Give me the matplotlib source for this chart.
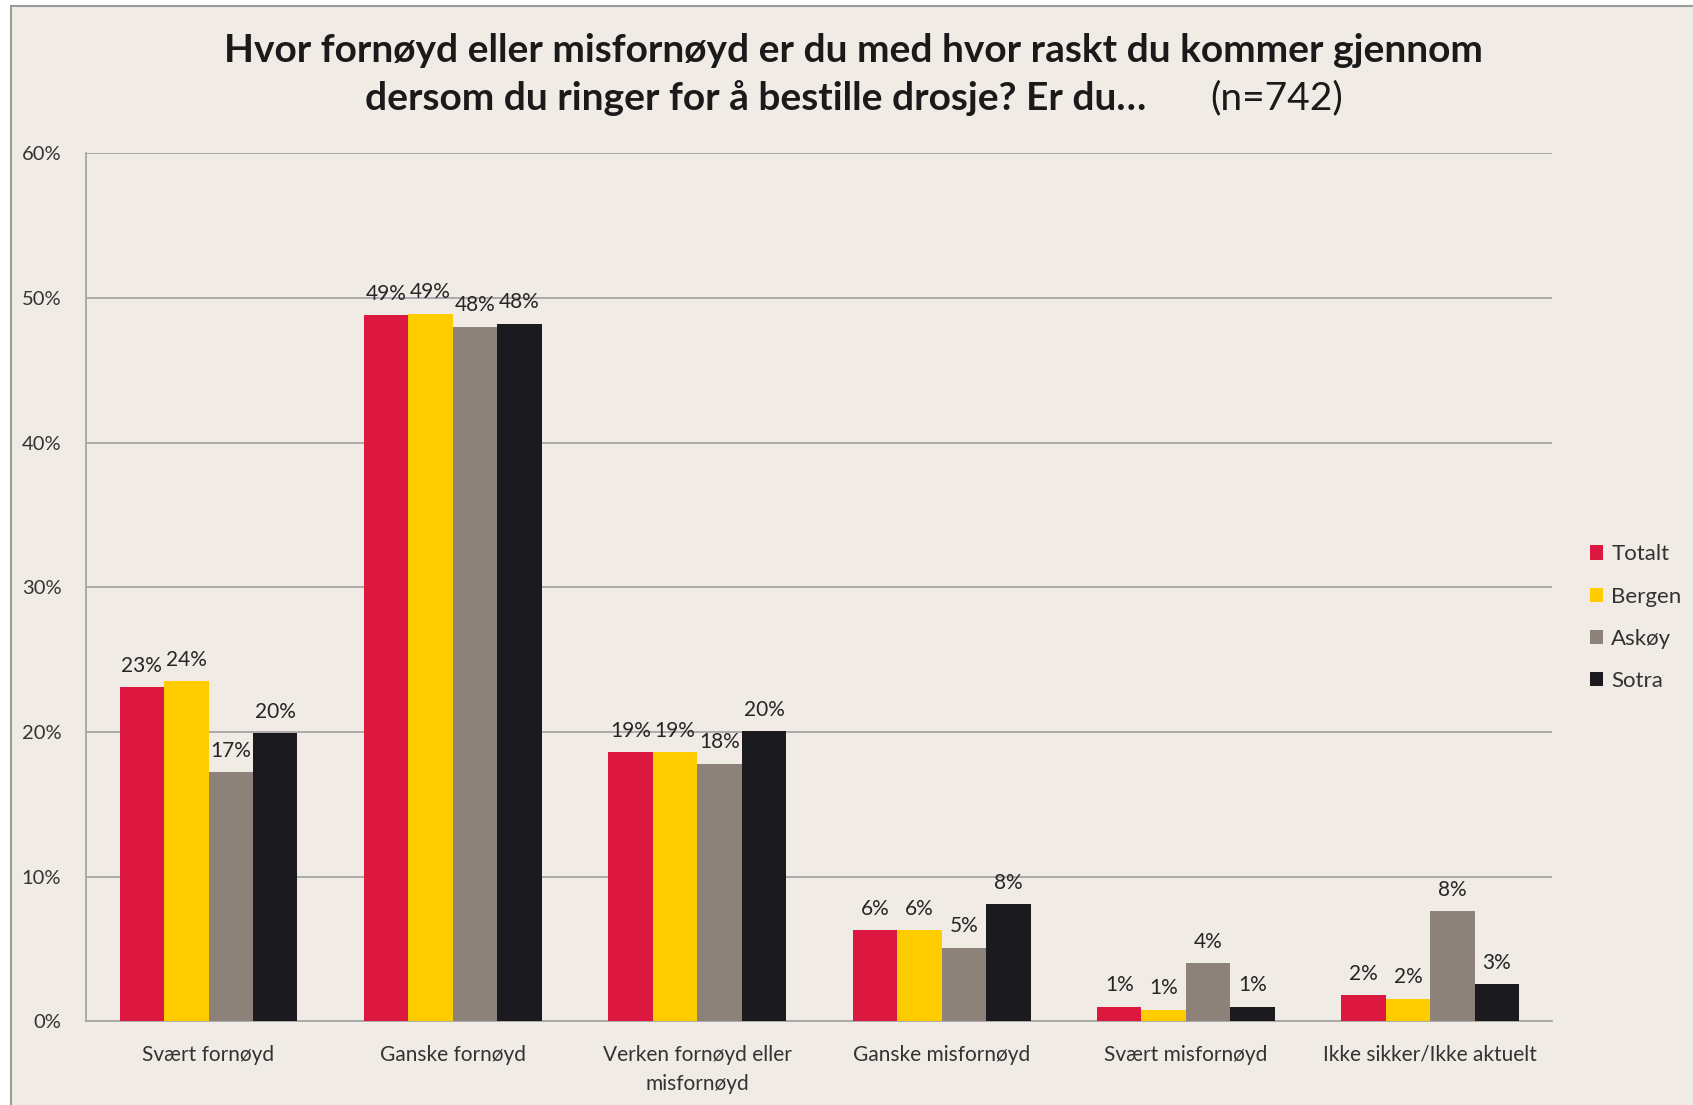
import matplotlib.pyplot as plt
import numpy as np
from matplotlib.patches import Rectangle

# categories and series (percent)
categories = ['Svært fornøyd', 'Ganske fornøyd', 'Verken fornøyd eller\nmisfornøyd',
              'Ganske misfornøyd', 'Svært misfornøyd', 'Ikke sikker/Ikke aktuelt']
series = ['Totalt', 'Bergen', 'Askøy', 'Sotra']
totalt = [23.1, 48.8, 18.6, 6.3, 1.0, 1.8]
bergen = [23.5, 48.9, 18.6, 6.3, 0.8, 1.55]
askoy = [17.2, 48.0, 17.8, 5.1, 4.0, 7.6]
sotra = [19.9, 48.2, 20.05, 8.1, 1.0, 2.55]
colors = ['#DC1740', '#FFCC00', '#8C8279', '#1B1A1E']

plt.rcParams['font.family'] = ['Lato', 'DejaVu Sans']

fig = plt.figure(figsize=(16.93, 11.05), dpi=100, facecolor='white')
# chart area background with border
fig.patches.append(Rectangle((0.0065, -0.01), 1.0, 1.005, transform=fig.transFigure,
                             facecolor='#F0EBE4', edgecolor='#9A9A9A', linewidth=1.5, zorder=-10))

ax = fig.add_axes([0.051, 0.0757, 0.866, 0.7856])
ax.set_facecolor('none')

x = np.arange(len(categories))
w = 0.182
for i, (vals, name) in enumerate(zip([totalt, bergen, askoy, sotra], series)):
    pos = x + (i - 1.5) * w
    bars = ax.bar(pos, vals, w, color=colors[i], label=name, zorder=3)
    for p, v in zip(pos, vals):
        ax.text(p, v + 0.8, '{:.0f}%'.format(v), ha='center', va='bottom',
                fontsize=15, color='#262626', zorder=4)

ax.set_xlim(-0.5, 5.5)
ax.set_ylim(0, 60)
ax.set_yticks(np.arange(0, 61, 10))
ax.set_yticklabels(['{}%'.format(t) for t in range(0, 61, 10)], fontsize=14.5, color='#333333')
ax.set_xticks(x)
ax.set_xticklabels(categories, fontsize=15, color='#333333', linespacing=1.55)
ax.tick_params(axis='both', length=0)
ax.tick_params(axis='y', pad=18)
ax.tick_params(axis='x', pad=17)
ax.grid(axis='y', color='#A6A6A6', linewidth=1.3, zorder=0)
for s in ['top', 'right']:
    ax.spines[s].set_visible(False)
for s in ['left', 'bottom']:
    ax.spines[s].set_color('#A6A6A6')
    ax.spines[s].set_linewidth(1.3)

leg = ax.legend(loc='center left', bbox_to_anchor=(1.012, 0.465), frameon=False,
                fontsize=16, handlelength=0.6, handleheight=0.6, handletextpad=0.35,
                labelspacing=1.0)
for t in leg.get_texts():
    t.set_color('#333333')

# title
fig.text(0.504, 0.954, 'Hvor fornøyd eller misfornøyd er du med hvor raskt du kommer gjennom',
         ha='center', va='center', fontsize=28, fontweight='bold', color='#1A1A1A')
fig.text(0.677, 0.911, 'dersom du ringer for å bestille drosje? Er du…',
         ha='right', va='center', fontsize=28, fontweight='bold', color='#1A1A1A')
fig.text(0.715, 0.911, '(n=742)', ha='left', va='center', fontsize=28, color='#1A1A1A')

fig.savefig('out.png', dpi=100, facecolor=fig.get_facecolor())
